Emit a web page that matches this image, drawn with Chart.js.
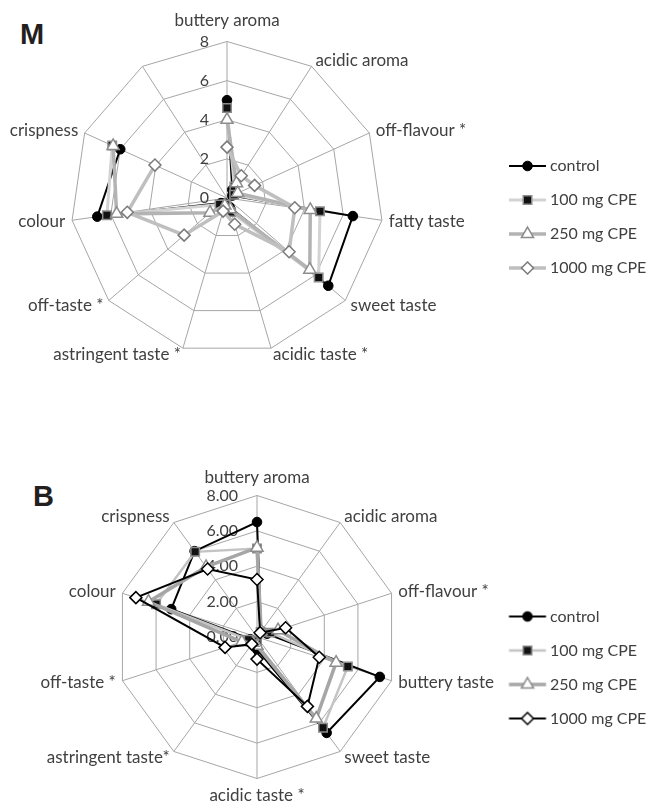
<!DOCTYPE html>
<html><head><meta charset="utf-8">
<script src="https://cdn.jsdelivr.net/npm/chart.js@4.4.1/dist/chart.umd.min.js"></script>
<style>
html,body{margin:0;padding:0;background:#fff;width:647px;height:803px;overflow:hidden;position:relative;}
canvas{position:absolute;}
.tag{position:absolute;font-family:'Liberation Sans',Arial,sans-serif;font-weight:bold;font-size:29px;line-height:29px;color:#231f20;}
</style></head><body>
<div class="tag" style="left:20px;top:20px">M</div>
<div class="tag" style="left:33px;top:482px">B</div>
<canvas id="cm"></canvas>
<canvas id="cb"></canvas>
<script>
// ---------- data ----------
const seriesNames = ['control', '100 mg CPE', '250 mg CPE', '1000 mg CPE'];

const labelsM = ['buttery aroma', 'acidic aroma', 'off-flavour *', 'fatty taste', 'sweet taste',
  'acidic taste *', 'astringent taste *', 'off-taste *', 'colour', 'crispness', ''];
const controlM = [5.0, 0.5, 0.3, 6.5, 6.85, 0.5, 0.3, 0.4, 6.7, 6.0, null];
const cpe100M  = [4.6, 0.7, 0.4, 4.8, 6.2, 0.75, 0.35, 0.5, 6.2, 6.45, null];
const cpe250M  = [4.0, 0.9, 0.6, 4.3, 5.6, 0.6, 0.4, 1.15, 5.7, 6.4, null];
const cpe1000M = [2.6, 1.35, 1.55, 3.5, 4.2, 1.4, 0.7, 2.9, 5.15, 4.05, null];
const tickLabelsM = ['0', '2', '4', '6', '8'];

const labelsB = ['buttery aroma', 'acidic aroma', 'off-flavour *', 'buttery taste', 'sweet taste',
  'acidic taste *', 'astringent taste*', 'off-taste *', 'colour', 'crispness'];
const controlB = [6.5, 0.4, 0.6, 7.3, 6.7, 0.7, 0.4, 0.4, 5.1, 6.0];
const cpe100B  = [5.0, 0.35, 0.8, 5.4, 6.35, 0.4, 0.3, 0.5, 6.0, 5.95];
const cpe250B  = [5.05, 0.4, 1.25, 4.7, 5.7, 0.5, 0.4, 0.9, 6.45, 4.9];
const cpe1000B = [3.25, 0.3, 1.7, 3.7, 4.85, 1.25, 0.5, 1.9, 7.2, 4.75];
const tickLabelsB = ['0.00', '2.00', '4.00', '6.00', '8.00'];

// ---------- styles ----------
const stylesM = [
  {line:'#000000', lw:2,   ps:'circle',   r:4.8, bg:'#000000', bc:'#000000', bw:1,   order:4},
  {line:'#d3d3d3', lw:3,   ps:'rect',     r:6,   bg:'#111111', bc:'#8c8c8c', bw:1.5, order:3},
  {line:'#b3b3b3', lw:3.5, ps:'triangle', r:7,   bg:'#ffffff', bc:'#8c8c8c', bw:1.5, order:2},
  {line:'#bfbfbf', lw:3.5, ps:'rectRot',  r:6,   bg:'#ffffff', bc:'#7a7a7a', bw:1.5, order:1}
];
const stylesB = [
  {line:'#000000', lw:2,   ps:'circle',   r:4.8, bg:'#000000', bc:'#000000', bw:1,   order:4},
  {line:'#c4c4c4', lw:2.5, ps:'rect',     r:6,   bg:'#111111', bc:'#8c8c8c', bw:1.5, order:3},
  {line:'#a6a6a6', lw:3.5, ps:'triangle', r:7,   bg:'#ffffff', bc:'#8c8c8c', bw:1.5, order:2},
  {line:'#000000', lw:2,   ps:'rectRot',  r:6,   bg:'#ffffff', bc:'#000000', bw:1.5, order:1}
];

Chart.defaults.font.family = 'Lato';
const FONT = 17, LEG_FONT = 16, LEG_PAD = 18;

const meas = document.createElement('canvas').getContext('2d');
function textW(s, size) { meas.font = size + 'px Lato'; return meas.measureText(s).width; }
function spacer(shift) { const w = textW(' ', 16); return ' '.repeat(Math.max(0, Math.round(2 * shift / w))); }

function marker(g, st, x, y) {
  g.fillStyle = st.bg; g.strokeStyle = st.bc; g.lineWidth = st.bw;
  g.beginPath();
  const r = st.r;
  if (st.ps === 'circle') { g.arc(x, y, r, 0, Math.PI * 2); }
  else if (st.ps === 'rect') { const s = r * Math.SQRT1_2; g.rect(x - s, y - s, 2 * s, 2 * s); }
  else if (st.ps === 'triangle') {
    for (let k = 0; k < 3; k++) { const a = k * 2 * Math.PI / 3; const px = x + Math.sin(a) * r, py = y - Math.cos(a) * r; k ? g.lineTo(px, py) : g.moveTo(px, py); }
    g.closePath();
  } else { g.moveTo(x, y - r); g.lineTo(x + r, y); g.lineTo(x, y + r); g.lineTo(x - r, y); g.closePath(); }
  g.fill(); g.stroke();
}
function legendImg(st, lineStart) {
  const c = document.createElement('canvas'); c.width = 80; c.height = 20;
  const g = c.getContext('2d');
  g.strokeStyle = st.line; g.lineWidth = st.lw;
  g.beginPath(); g.moveTo(lineStart, 10); g.lineTo(lineStart + 37, 10); g.stroke();
  marker(g, st, lineStart + 18.5, 10);
  return c;
}

function datasets(values, styles) {
  return values.map((v, i) => ({
    label: seriesNames[i], data: v, fill: false, tension: 0,
    borderColor: styles[i].line, borderWidth: styles[i].lw, backgroundColor: 'transparent',
    pointStyle: styles[i].ps, pointRadius: styles[i].r, pointHoverRadius: styles[i].r,
    pointBackgroundColor: styles[i].bg, pointBorderColor: styles[i].bc, pointBorderWidth: styles[i].bw,
    order: styles[i].order, spanGaps: false
  }));
}

// g: page geometry of the plot box (left L, right Rt, top T, height H), legend text x, pads
function makeChart(id, labels, values, styles, tickLabels, g) {
  const W = g.textX - (g.Rt + LEG_PAD) - LEG_FONT / 2;       // legend box width
  const cx = g.Rt + LEG_PAD + W / 2;
  const lineStart = 40 - (cx - g.lineX);
  const imgs = styles.map(s => legendImg(s, lineStart));
  const maxT = Math.max(...seriesNames.map(s => textW(s, LEG_FONT)));
  const legendW = LEG_PAD + W + LEG_FONT / 2 + maxT + 10;
  const exactW = (g.Rt - g.L) + legendW;
  const cw = Math.ceil(exactW) + 1;
  const cv = document.getElementById(id);
  cv.width = cw; cv.height = g.padTop + g.H + g.padBottom;
  cv.style.left = g.L + 'px'; cv.style.top = (g.T - g.padTop) + 'px';
  const pad = spacer(g.tickShift);
  return new Chart(cv, {
    type: 'radar',
    data: { labels: labels, datasets: datasets(values, styles) },
    options: {
      responsive: false, animation: false,
      layout: { padding: { left: 0, right: cw - exactW, top: g.padTop, bottom: g.padBottom } },
      plugins: {
        tooltip: { enabled: false },
        legend: {
          position: 'right',
          title: { display: true, text: '', font: { size: 10 }, padding: { top: g.titlePad, bottom: 0 } },
          labels: {
            usePointStyle: true, pointStyleWidth: W, padding: LEG_PAD,
            color: '#404040', font: { family: 'Lato', size: LEG_FONT },
            generateLabels: chart => chart.data.datasets.map((d, i) => ({
              text: d.label, pointStyle: imgs[i], datasetIndex: i, hidden: false,
              lineWidth: 0, strokeStyle: 'rgba(0,0,0,0)', fillStyle: 'rgba(0,0,0,0)', fontColor: '#404040'
            }))
          }
        }
      },
      scales: {
        r: {
          min: -1e-9, max: 8, startAngle: 0,
          ticks: {
            stepSize: 2, showLabelBackdrop: false, color: '#404040', backdropPadding: 2,
            font: { family: 'Lato', size: 16 },
            callback: (v, i) => tickLabels[i] + pad
          },
          grid: { color: '#a6a6a6', lineWidth: 1, circular: false },
          angleLines: { color: '#a6a6a6', lineWidth: 1 },
          pointLabels: {
            display: true, color: '#404040',
            padding: c => g.labelPad(c.index),
            font: { family: 'Lato', size: FONT, lineHeight: 0 }
          }
        }
      }
    }
  });
}

makeChart('cm', labelsM, [controlM, cpe100M, cpe250M, cpe1000M], stylesM, tickLabelsM, {
  L: -36, Rt: 490, T: 16, H: 354, padTop: 16, padBottom: 0,
  textX: 550, lineX: 509, titlePad: 35.9, tickShift: 22,
  labelPad: i => (i === 0 ? 10.5 : -3)
});
makeChart('cb', labelsB, [controlB, cpe100B, cpe250B, cpe1000B], stylesB, tickLabelsB, {
  L: 7, Rt: 507, T: 478, H: 318, padTop: 16, padBottom: 12,
  textX: 550, lineX: 509, titlePad: 49, tickShift: 35,
  labelPad: i => (i === 0 || i === 5 ? 7.5 : -3)
});
</script>
</body></html>
